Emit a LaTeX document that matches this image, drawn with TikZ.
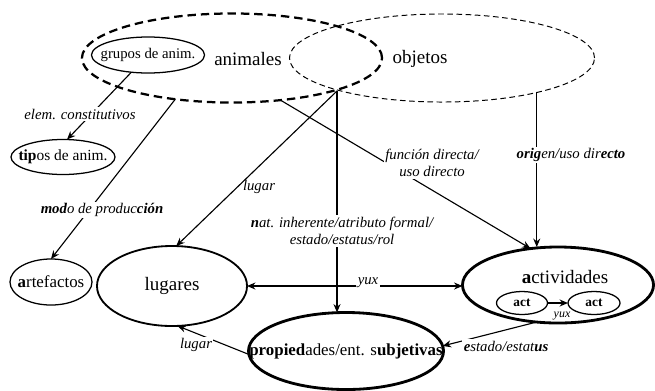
\documentclass[tikz,border=0pt]{standalone}
\usepackage{fontspec}
\setmainfont{Liberation Serif}
\usetikzlibrary{arrows.meta, shapes.geometric}
\tikzset{
  every picture/.style={line width=0.8pt},
  oval/.style={draw, ellipse, inner sep=-40pt, outer sep=0pt, line width=#1},
  oval/.default=0.9pt,
  bigtxt/.style={font=\fontsize{13.5}{16}\selectfont},
  midtxt/.style={font=\fontsize{12}{14}\selectfont},
  smalltxt/.style={font=\fontsize{10.5}{12}\selectfont},
  rel/.style={font=\fontsize{10.5}{12.6}\selectfont\itshape, fill=white, inner sep=1pt, align=center},
  arrow/.style={-{Stealth[length=6pt, width=5pt]}, line width=0.8pt},
  twoway/.style={{Stealth[length=6pt, width=5pt]}-{Stealth[length=6pt, width=5pt]}, line width=0.8pt},
}

\begin{document}
\begin{tikzpicture}[x=0.025cm, y=-0.025cm]
  \useasboundingbox (0,0) rectangle (655,390);
  % top: the two overlapping domains
  \node[oval=1.6pt, dash pattern=on 6pt off 3.5pt, minimum width=7.5cm, minimum height=2.225cm] (anim) at (232,58) {};
  \node[oval=0.7pt, dash pattern=on 4pt off 2.5pt, minimum width=7.625cm, minimum height=2.2cm] (obj) at (442,58) {};
  \node[bigtxt] (animlbl) at (248,59) {animales};
  \node[bigtxt] (objlbl) at (420,59) {objetos};
  \node[oval, smalltxt, minimum width=2.825cm, minimum height=0.9cm] (grup) at (148,55) {grupos de anim.};
  \coordinate (cruce) at (337,91);
  % left column
  \node[oval, font=\fontsize{11}{13}\selectfont, minimum width=2.6cm, minimum height=0.875cm] (tip) at (63,157) {\textbf{tip}os de anim.};
  \node[oval, midtxt, minimum width=2.05cm, minimum height=1.15cm] (art) at (51,282) {\textbf{a}rtefactos};
  % bottom row
  \node[oval=1.3pt, bigtxt, minimum width=3.75cm, minimum height=2cm] (lug) at (172,286) {lugares};
  \node[oval=2pt, minimum width=4.775cm, minimum height=1.9cm] (actv) at (558,285) {};
  \node[bigtxt] (actvlbl) at (565,277) {\textbf{a}ctividades};
  \node[oval, font=\fontsize{9.5}{11}\selectfont\bfseries, minimum width=1.275cm, minimum height=0.575cm] (act1) at (522,303) {act};
  \node[oval, font=\fontsize{9.5}{11}\selectfont\bfseries, minimum width=1.3cm, minimum height=0.575cm] (act2) at (594,303) {act};
  \node[oval=2pt, midtxt, minimum width=4.875cm, minimum height=1.925cm] (prop) at (346,351) {\textbf{propied}ades/ent. s\textbf{ubjetivas}};
  % relations
  \draw[arrow] (grup.-134) -- (tip.77);
  \draw[arrow] (anim.-144) -- (art.90);
  \draw[arrow] (cruce) -- (lug.84);
  \draw[arrow] (cruce) -- (cruce |- prop.north);
  \draw[arrow] (anim.-41) -- (actv.127);
  \draw[arrow] (obj.-20.5) -- (obj.-20.5 |- actv.north);
  \draw[twoway] (lug.east) -- (lug.east -| actv.west);
  \draw[arrow] (actv.-120) -- (prop.3);
  \draw[arrow] (prop.182) -- (lug.-82);
  \draw[arrow, line width=1.4pt] (act1) -- (act2);
  % relation labels
  \node[rel] (l1) at (80,114) {elem. constitutivos};
  \node[rel] (l2) at (102,210) {\textbf{mod}o de produc\textbf{ción}};
  \node[rel, fill=none] (l3) at (259,187) {lugar};
  \node[rel] (l4) at (342,231) {\textbf{n}at. inherente/atributo formal/\\estado/estatus/rol};
  \node[rel] (l5) at (432,163) {función directa/\\uso directo};
  \node[rel] (l6) at (571,155) {\textbf{orig}en/uso dir\textbf{ecto}};
  \node[rel] (l7) at (368,283) {yux};
  \node[rel] (l8) at (506,346) {\textbf{e}stado/estat\textbf{us}};
  \node[rel] (l9) at (196,345) {lugar};
  \node[rel, fill=none, font=\fontsize{8.5}{10}\selectfont\itshape] (l10) at (562,316) {yux};
\end{tikzpicture}
\end{document}
